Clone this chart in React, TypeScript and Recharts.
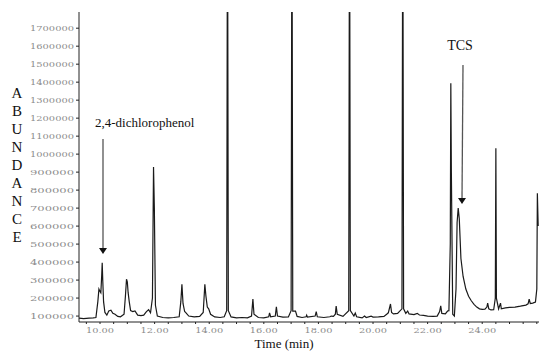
import React from "react";
import { LineChart, Line, XAxis, YAxis } from "recharts";

// retention time (min) and abundance
const TIMES = [
  9.23, 9.4, 9.6, 9.75, 9.85, 9.92, 9.96, 9.99, 10.03, 10.06, 10.08, 10.1, 10.13, 10.18, 10.25, 10.32, 10.4, 10.47,
  10.55, 10.65, 10.75, 10.88, 10.93, 10.97, 11.0, 11.03, 11.07, 11.12, 11.2, 11.28, 11.38, 11.5, 11.6, 11.7, 11.78,
  11.85, 11.92, 11.96, 11.99, 12.03, 12.1, 12.3, 12.5, 12.7, 12.9, 12.96, 13.0, 13.04, 13.1, 13.15, 13.25, 13.45,
  13.65, 13.78, 13.84, 13.88, 13.93, 13.98, 14.05, 14.2, 14.4, 14.55, 14.64, 14.67, 14.7, 14.8, 15.0, 15.2,
  15.4, 15.55, 15.6, 15.64, 15.8, 16.0, 16.18, 16.21, 16.25, 16.42, 16.46, 16.5, 16.7, 16.9, 17.0, 17.03,
  17.06, 17.16, 17.22, 17.4, 17.55, 17.57, 17.6, 17.88, 17.92, 17.96, 18.2, 18.42, 18.47, 18.55, 18.62, 18.65,
  18.69, 18.9, 19.11, 19.14, 19.17, 19.3, 19.35, 19.4, 19.6, 19.69, 19.75, 19.93, 20.0, 20.2, 20.4, 20.5,
  20.56, 20.64, 20.68, 20.75, 20.9, 21.06, 21.09, 21.12, 21.2, 21.27, 21.32, 21.5, 21.62, 21.7, 21.85, 22.0,
  22.2, 22.35, 22.44, 22.48, 22.52, 22.65, 22.73, 22.78, 22.83, 22.85, 22.87, 22.92, 22.98, 23.04, 23.08, 23.12,
  23.16, 23.22, 23.3, 23.4, 23.5, 23.6, 23.7, 23.8, 23.9, 24.0, 24.1, 24.17, 24.2, 24.24, 24.32, 24.42, 24.48, 24.5,
  24.52, 24.6, 24.67, 24.7, 24.85, 25.0, 25.2, 25.4, 25.6, 25.68, 25.72, 25.76, 25.85, 25.95, 26.0, 26.02, 26.05,
];

const ABUNDANCE = [
  88000, 86000, 88000, 90000, 92000, 180000, 250000, 240000, 230000, 320000, 396000, 300000, 180000, 120000, 105000,
  128000, 132000, 115000, 110000, 98000, 96000, 110000, 210000, 305000, 290000, 230000, 180000, 130000, 125000,
  128000, 105000, 102000, 105000, 125000, 135000, 118000, 200000, 928000, 700000, 160000, 100000, 92000, 90000, 92000,
  96000, 180000, 276000, 170000, 125000, 118000, 100000, 95000, 98000, 120000, 277000, 210000, 150000, 140000, 110000,
  95000, 92000, 96000, 130000, 2600000, 130000, 95000, 90000, 92000, 90000, 100000, 194000, 110000, 92000,
  90000, 96000, 118000, 96000, 100000, 152000, 100000, 94000, 95000, 130000, 2600000, 128000, 128000, 98000,
  92000, 96000, 105000, 94000, 100000, 124000, 96000, 92000, 96000, 100000, 98000, 110000, 155000, 110000, 98000,
  130000, 2600000, 130000, 100000, 117000, 96000, 90000, 100000, 92000, 100000, 94000, 95000, 98000, 110000,
  118000, 167000, 120000, 112000, 115000, 140000, 2600000, 140000, 115000, 128000, 112000, 108000, 115000,
  106000, 104000, 100000, 98000, 100000, 125000, 157000, 115000, 112000, 128000, 130000, 500000, 1394000, 900000,
  110000, 100000, 250000, 620000, 700000, 640000, 420000, 320000, 250000, 210000, 185000, 165000, 150000, 140000,
  137000, 138000, 150000, 172000, 140000, 134000, 135000, 200000, 1033000, 200000, 140000, 172000, 140000, 145000,
  148000, 150000, 155000, 161000, 168000, 194000, 170000, 172000, 178000, 250000, 783000, 600000,
];

const Y_TICKS = [
  100000, 200000, 300000, 400000, 500000, 600000, 700000, 800000, 900000, 1000000, 1100000, 1200000, 1300000,
  1400000, 1500000, 1600000, 1700000,
];
const X_LABELS = [10, 12, 14, 16, 18, 20, 22, 24];
const X_TICKS = [
  9.5, 10, 10.5, 11, 11.5, 12, 12.5, 13, 13.5, 14, 14.5, 15, 15.5, 16, 16.5, 17, 17.5, 18, 18.5, 19, 19.5, 20, 20.5,
  21, 21.5, 22, 22.5, 23, 23.5, 24, 24.5, 25, 25.5, 26,
];
const Y_LETTERS = ["A", "B", "U", "N", "D", "A", "N", "C", "E"];

const data = TIMES.map((t, i) => ({ t, a: ABUNDANCE[i] }));

const YTick = ({ x, y, payload }: any) => (
  <text
    x={x}
    y={y}
    dy={3}
    textAnchor="end"
    fontSize={8}
    fontFamily="DejaVu Serif"
    fill="#8c8c8c"
    textLength={44}
    lengthAdjust="spacingAndGlyphs"
  >
    {payload.value}
  </text>
);

const XTick = ({ x, y, payload }: any) => {
  if (!X_LABELS.includes(payload.value)) return <g />;
  return (
    <text
      x={x}
      y={y}
      dy={7}
      textAnchor="middle"
      fontSize={8}
      fontFamily="DejaVu Serif"
      fill="#8c8c8c"
      textLength={28}
      lengthAdjust="spacingAndGlyphs"
    >
      {payload.value.toFixed(2)}
    </text>
  );
};

const serif = "'Liberation Serif', 'Times New Roman', serif";

export default function App() {
  return (
    <div style={{ position: "absolute", left: 0, top: 0, width: 550, height: 357, background: "#fff" }}>
      <LineChart width={550} height={357} data={data} margin={{ top: 12, right: 11, bottom: 0, left: 0 }}>
        <XAxis
          dataKey="t"
          type="number"
          domain={[9.23, 26.08]}
          ticks={X_TICKS}
          tick={<XTick />}
          tickSize={2}
          height={35}
          interval={0}
          stroke="#222"
          allowDataOverflow
        />
        <YAxis
          type="number"
          domain={[67000, 1790000]}
          ticks={Y_TICKS}
          tick={<YTick />}
          tickSize={3}
          width={79}
          interval={0}
          stroke="#222"
          allowDataOverflow
        />
        <Line
          type="linear"
          dataKey="a"
          stroke="#1a1a1a"
          strokeWidth={1.2}
          dot={false}
          isAnimationActive={false}
        />
      </LineChart>
      <svg
        width={550}
        height={357}
        style={{ position: "absolute", left: 0, top: 0, pointerEvents: "none" }}
        fontFamily={serif}
      >
        {Y_LETTERS.map((c, i) => (
          <text key={i} x={17} y={98 + i * 18} fontSize={15} textAnchor="middle" fill="#111">
            {c}
          </text>
        ))}
        <text x={284} y={348} fontSize={13} textAnchor="middle" fill="#111">
          Time (min)
        </text>
        <text x={95} y={127} fontSize={13} fill="#111">
          2,4-dichlorophenol
        </text>
        <line x1={103} y1={139} x2={103} y2={249} stroke="#555" strokeWidth={1.3} />
        <polygon points="99,248 107,248 103,254" fill="#111" />
        <text x={460} y={50} fontSize={14} textAnchor="middle" fill="#111">
          TCS
        </text>
        <line x1={463} y1={65} x2={462} y2={199} stroke="#555" strokeWidth={1.3} />
        <polygon points="458,198 466,198 462,204" fill="#111" />
      </svg>
    </div>
  );
}
